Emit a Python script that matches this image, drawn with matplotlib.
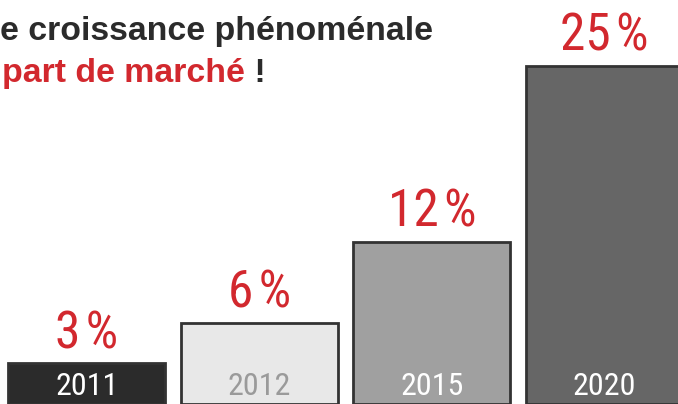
import matplotlib
matplotlib.use('Agg')
import matplotlib.pyplot as plt
from matplotlib import font_manager

# --- data ---
years = ['2011', '2012', '2015', '2020']
shares = [3, 6, 12, 25]
bar_colors = ['#2b2b2b', '#e8e8e8', '#a0a0a0', '#666666']
year_colors = ['#ffffff', '#9a9a9a', '#ffffff', '#ffffff']

red = '#d2282e'
dark = '#2b2b2b'


def pick_font(candidates):
    names = {f.name for f in font_manager.fontManager.ttflist}
    for c in candidates:
        if c in names:
            return c
    return 'DejaVu Sans'


num_font = pick_font(['Roboto Condensed', 'Liberation Sans Narrow', 'Open Sans', 'Lato'])
title_font = pick_font(['Liberation Sans', 'Arial', 'DejaVu Sans'])

fig = plt.figure(figsize=(6.78, 4.04), dpi=100)
ax = fig.add_axes([0, 0, 1, 1])
ax.set_axis_off()

x = list(range(len(years)))
bars = ax.bar(x, shares, width=0.91, color=bar_colors, edgecolor='#333333', linewidth=2)

for xi, v, yr, yc in zip(x, shares, years, year_colors):
    ax.annotate(f'{v}\u200a%', (xi, v), xytext=(0, 11), textcoords='offset points',
                ha='center', va='baseline', color=red, fontsize=37, family=num_font)
    ax.text(xi, 0.7, yr, ha='center', va='baseline', color=yc, fontsize=23, family=num_font)

ax.set_xlim(-0.504, 3.426)
ax.set_ylim(0, 29.87)

# title lines (cropped on the left in the source image)
fs = 24.4
fig.text(0.0, 1 - 40 / 404, 'e croissance phénoménale', ha='left', va='baseline',
         fontsize=fs, fontweight='bold', color=dark, family=title_font)
t = fig.text(0.003, 1 - 82 / 404, 'part de marché', ha='left', va='baseline',
             fontsize=fs, fontweight='bold', color=red, family=title_font)
fig.canvas.draw()
bb = t.get_window_extent()
fig.text(bb.x1 / fig.bbox.width, 1 - 82 / 404, ' !', ha='left', va='baseline',
         fontsize=fs, fontweight='bold', color=dark, family=title_font)

fig.savefig('out.png', dpi=100)
